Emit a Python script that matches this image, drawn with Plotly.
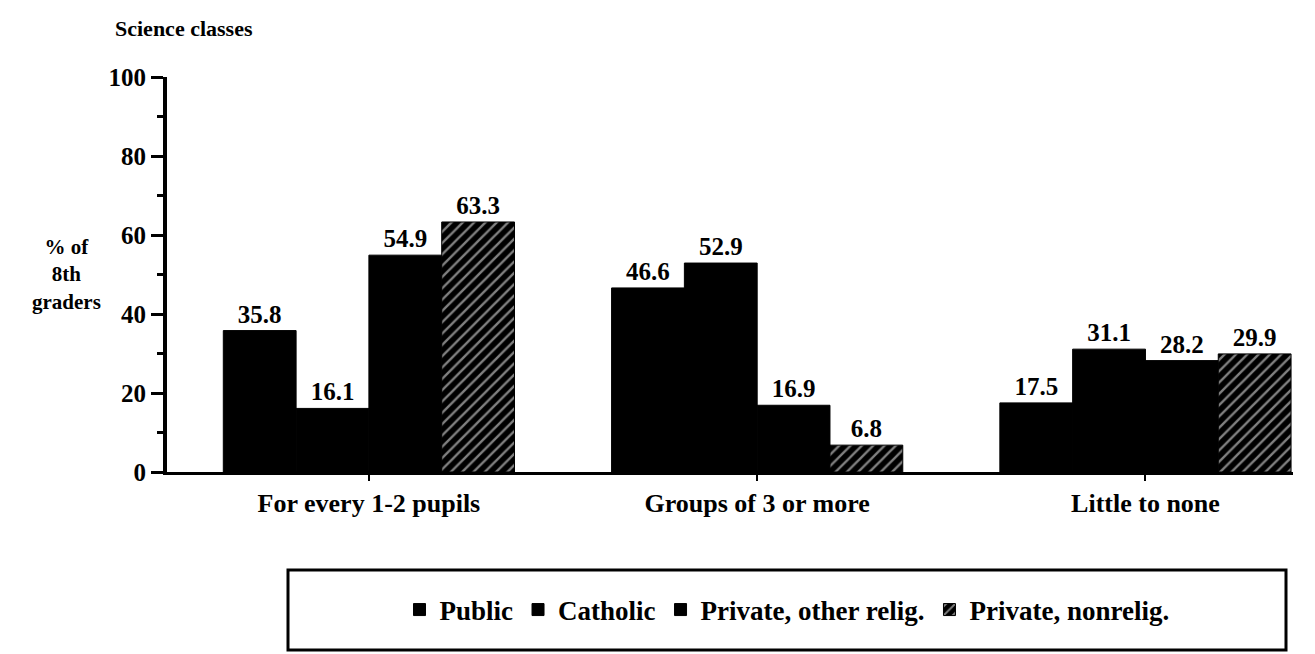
import plotly.graph_objects as go

categories = ["For every 1-2 pupils", "Groups of 3 or more", "Little to none"]
series_names = ["Public", "Catholic", "Private, other relig.", "Private, nonrelig."]
public = [35.8, 46.6, 17.5]
catholic = [16.1, 52.9, 31.1]
private_other = [54.9, 16.9, 28.2]
private_nonrelig = [63.3, 6.8, 29.9]
y_ticks = [0, 20, 40, 60, 80, 100]

FONT = "Liberation Serif"
W, H = 1315, 654
L, R, T, B = 159, 30, 69, 190

fig = go.Figure()
series = [public, catholic, private_other, private_nonrelig]
for i, (name, vals) in enumerate(zip(series_names, series)):
    marker = dict(color="black", line=dict(color="black", width=1))
    if i == 3:
        marker["pattern"] = dict(shape="/", fgcolor="white", bgcolor="black",
                                 size=8, solidity=0.3)
    fig.add_trace(go.Bar(
        x=list(range(len(categories))), y=vals, name=name, marker=marker,
        text=[f"{v:.1f}" for v in vals], textposition="outside",
        textfont=dict(family=FONT, size=25, color="black", weight="bold"),
        cliponaxis=False,
    ))

pw = W - L - R
ph = H - T - B

def px(x):
    return (x - L) / pw

def py(y):
    return (H - B - y) / ph

box_l, box_r, box_t, box_b = 280, 1278, 562, 642

fig.update_layout(
    width=W, height=H,
    margin=dict(l=L, r=R, t=T, b=B, pad=0),
    paper_bgcolor="white", plot_bgcolor="white",
    barmode="group", bargap=0.25, bargroupgap=0,
    font=dict(family=FONT, size=20, color="black"),
    showlegend=True,
    legend=dict(orientation="h", x=px((box_l + box_r) / 2), y=py((box_t + box_b) / 2),
                xanchor="center", yanchor="middle",
                borderwidth=0, bgcolor="rgba(0,0,0,0)",
                font=dict(family=FONT, size=27, color="black", weight="bold"),
                traceorder="normal"),
    shapes=[dict(type="rect", xref="paper", yref="paper",
                 x0=px(box_l), x1=px(box_r), y0=py(box_b), y1=py(box_t),
                 line=dict(color="black", width=3), fillcolor="rgba(0,0,0,0)")],
    annotations=[
        dict(text="<b>Science classes</b>", x=px(105), y=py(20), xref="paper", yref="paper",
             xanchor="left", yanchor="middle", showarrow=False,
             font=dict(family=FONT, size=22, color="black")),
        dict(text="<b>% of<br>8th<br>graders</b>", x=px(58), y=py(266), xref="paper", yref="paper",
             xanchor="center", yanchor="middle", showarrow=False, align="center",
             font=dict(family=FONT, size=21, color="black")),
    ],
)
fig.update_xaxes(
    range=[-0.52, 2.38], tickmode="array", tickvals=list(range(len(categories))),
    ticktext=categories, showline=True, linecolor="black", linewidth=3,
    ticks="outside", tickson="boundaries", ticklen=6, tickwidth=2, tickcolor="black",
    showgrid=False, zeroline=False,
    tickfont=dict(family=FONT, size=26, color="black", weight="bold"),
)
fig.update_yaxes(
    range=[0, 100], tickmode="array", tickvals=y_ticks, ticktext=[str(t) for t in y_ticks],
    showline=True, linecolor="black", linewidth=4,
    ticks="outside", ticklen=12, tickwidth=3, tickcolor="black",
    minor=dict(dtick=10, ticks="outside", ticklen=6, tickwidth=3, tickcolor="black", showgrid=False),
    showgrid=False, zeroline=False,
    tickfont=dict(family=FONT, size=25, color="black", weight="bold"),
)
fig.write_html("out.html")
